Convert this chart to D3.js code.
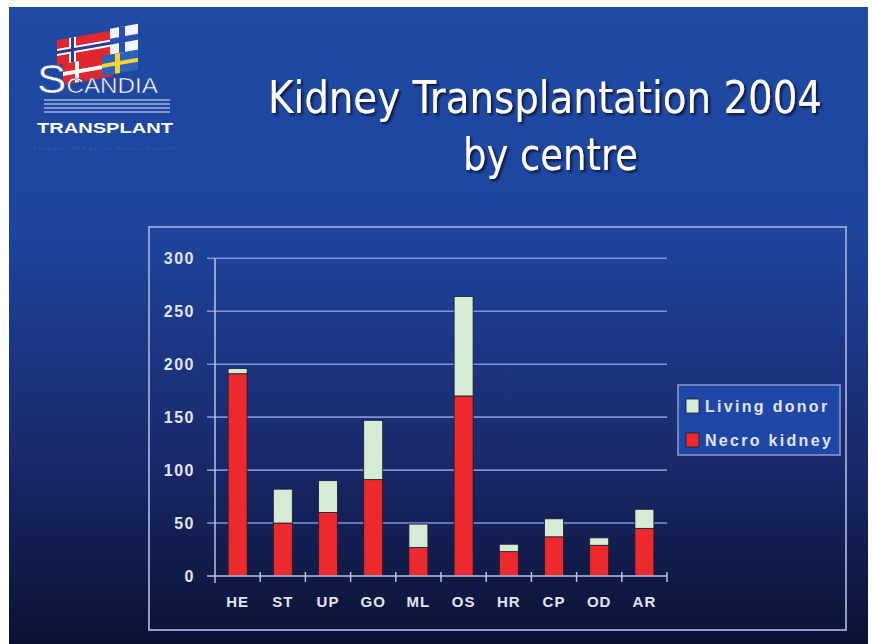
<!DOCTYPE html>
<html>
<head>
<meta charset="utf-8">
<script src="https://cdn.jsdelivr.net/npm/d3@7"></script>
<style>
  body { margin: 0; background: #fff; }
  svg { display: block; }
</style>
</head>
<body>
<div id="wrapper"></div>
<script>
// data
const centres = ["HE", "ST", "UP", "GO", "ML", "OS", "HR", "CP", "OD", "AR"]
const necroKidney = [191, 50, 60, 91, 27, 170, 23, 37, 29, 45]
const livingDonor = [5, 32, 30, 56, 22, 94, 7, 17, 7, 18]
const yTicks = [0, 50, 100, 150, 200, 250, 300]
const seriesNames = ["Necro kidney", "Living donor"]
const legendOrder = ["Living donor", "Necro kidney"]

const width = 872, height = 644
const colors = { "Necro kidney": "#ec2a2e", "Living donor": "#d5ebd5" }
const labelColor = "#e2e4f0"

const svg = d3.select("#wrapper")
    .append("svg")
        .attr("width", width)
        .attr("height", height)

const defs = svg.append("defs")
const grad = defs.append("linearGradient")
    .attr("id", "bg")
    .attr("x1", 0).attr("y1", 0).attr("x2", 0).attr("y2", 1)
grad.append("stop").attr("offset", "0%").attr("stop-color", "#1e4aa2")
grad.append("stop").attr("offset", "33%").attr("stop-color", "#1e469f")
grad.append("stop").attr("offset", "70%").attr("stop-color", "#1a2a6c")
grad.append("stop").attr("offset", "100%").attr("stop-color", "#0a1232")

const shadow = defs.append("filter").attr("id", "shadow")
    .attr("x", "-5%").attr("y", "-20%").attr("width", "110%").attr("height", "140%")
shadow.append("feDropShadow")
    .attr("dx", 2).attr("dy", 2).attr("stdDeviation", 1)
    .attr("flood-color", "#0a1030").attr("flood-opacity", 0.9)

// slide background
svg.append("rect")
    .attr("x", 9).attr("y", 7)
    .attr("width", 859).attr("height", height - 7)
    .attr("fill", "url(#bg)")

// logo (rough)
const logo = svg.append("g").attr("id", "logo")
const flags = logo.append("g").attr("transform", "translate(57,40) skewY(-10)")
// denmark
flags.append("rect").attr("x", 6).attr("y", 24).attr("width", 50).attr("height", 22).attr("fill", "#e0262e")
flags.append("rect").attr("x", 18).attr("y", 24).attr("width", 4).attr("height", 22).attr("fill", "#fff")
flags.append("rect").attr("x", 6).attr("y", 33).attr("width", 50).attr("height", 4).attr("fill", "#fff")
// norway
flags.append("rect").attr("x", 0).attr("y", 0).attr("width", 53).attr("height", 25).attr("fill", "#e0262e")
flags.append("rect").attr("x", 12).attr("y", 0).attr("width", 7).attr("height", 25).attr("fill", "#fff")
flags.append("rect").attr("x", 0).attr("y", 9).attr("width", 53).attr("height", 7).attr("fill", "#fff")
flags.append("rect").attr("x", 14).attr("y", 0).attr("width", 3).attr("height", 25).attr("fill", "#2a3a9a")
flags.append("rect").attr("x", 0).attr("y", 11).attr("width", 53).attr("height", 3).attr("fill", "#2a3a9a")
// finland
flags.append("rect").attr("x", 53).attr("y", -2).attr("width", 28).attr("height", 26).attr("fill", "#f4f6fb")
flags.append("rect").attr("x", 62).attr("y", -2).attr("width", 6).attr("height", 26).attr("fill", "#2a50b0")
flags.append("rect").attr("x", 53).attr("y", 8).attr("width", 28).attr("height", 6).attr("fill", "#2a50b0")
// sweden
flags.append("rect").attr("x", 45).attr("y", 24).attr("width", 36).attr("height", 20).attr("fill", "#2c62b8")
flags.append("rect").attr("x", 58).attr("y", 24).attr("width", 5).attr("height", 20).attr("fill", "#f2d43a")
flags.append("rect").attr("x", 45).attr("y", 32).attr("width", 36).attr("height", 4).attr("fill", "#f2d43a")

const scandia = logo.append("text")
    .attr("x", 37).attr("y", 93)
    .attr("font-family", "Liberation Sans, Arial, sans-serif")
    .attr("fill", "#fff")
    .attr("stroke", "#2a3f8f").attr("stroke-width", 0.5)
    .attr("textLength", 121).attr("lengthAdjust", "spacingAndGlyphs")
scandia.append("tspan").attr("font-size", 40).text("S")
scandia.append("tspan").attr("font-size", 22).text("CANDIA")

logo.selectAll(".logoLine")
    .data([100, 104, 108, 112])
    .join("line")
        .attr("class", "logoLine")
        .attr("x1", 44).attr("x2", 170)
        .attr("y1", d => d).attr("y2", d => d)
        .attr("stroke", "#dfe6f6").attr("stroke-width", 1.2)
logo.append("text")
    .attr("x", 37).attr("y", 133)
    .attr("font-family", "Liberation Sans, Arial, sans-serif")
    .attr("font-weight", "bold")
    .attr("font-size", 15).attr("fill", "#fff")
    .attr("textLength", 136).attr("lengthAdjust", "spacingAndGlyphs")
    .text("TRANSPLANT")
logo.append("text")
    .attr("x", 34).attr("y", 150)
    .attr("font-family", "Liberation Serif, serif")
    .attr("font-size", 5).attr("fill", "#3a62c0")
    .attr("textLength", 140)
    .text("Founded 1969 by the Nordic Council")

// title
const title = svg.append("g")
    .attr("font-family", "DejaVu Sans Condensed, DejaVu Sans, sans-serif")
    .attr("font-size", 44)
    .attr("fill", "#fff")
    .attr("filter", "url(#shadow)")
title.append("text")
    .attr("x", 268).attr("y", 113)
    .attr("textLength", 554).attr("lengthAdjust", "spacingAndGlyphs")
    .text("Kidney Transplantation 2004")
title.append("text")
    .attr("x", 463).attr("y", 170)
    .attr("textLength", 175).attr("lengthAdjust", "spacingAndGlyphs")
    .text("by centre")

// chart frame
svg.append("rect")
    .attr("x", 149).attr("y", 227)
    .attr("width", 697).attr("height", 403)
    .attr("fill", "none")
    .attr("stroke", "#8e9ccc").attr("stroke-width", 2)

// scales
const x = d3.scaleBand()
    .domain(centres)
    .range([215, 667])
    .paddingInner(0.58)
    .paddingOuter(0.29)

const y = d3.scaleLinear()
    .domain([0, 300])
    .range([576, 258.3])

// gridlines
svg.append("g")
    .selectAll("line")
    .data(yTicks.filter(d => d > 0))
    .join("line")
        .attr("x1", 207).attr("x2", x.range()[1])
        .attr("y1", d => y(d)).attr("y2", d => y(d))
        .attr("stroke", "#7f93dc").attr("stroke-width", 1.6)

// y axis
const yAxis = svg.append("g")
    .attr("transform", "translate(215,0)")
    .call(d3.axisLeft(y).tickValues(yTicks).tickSize(0).tickPadding(20))
yAxis.select(".domain")
    .attr("d", `M0,${y(300)}V${y(0) + 7}`)
    .attr("stroke", "#b9c2e6").attr("stroke-width", 1.5)
yAxis.selectAll("text")
    .attr("font-family", "Liberation Sans, Arial, sans-serif")
    .attr("font-weight", "bold")
    .attr("font-size", 16)
    .attr("letter-spacing", 1.5)
    .attr("fill", labelColor)

// stacked bars
const rows = centres.map((c, i) => ({
    centre: c,
    "Necro kidney": necroKidney[i],
    "Living donor": livingDonor[i]
}))
const stacked = d3.stack().keys(seriesNames)(rows)

svg.append("g")
    .selectAll("g")
    .data(stacked)
    .join("g")
        .attr("fill", d => colors[d.key])
    .selectAll("rect")
    .data(d => d)
    .join("rect")
        .attr("x", d => x(d.data.centre))
        .attr("y", d => y(d[1]))
        .attr("width", x.bandwidth())
        .attr("height", d => y(d[0]) - y(d[1]))
        .attr("stroke", "#1a1a2a")
        .attr("stroke-width", 0.8)

// x axis
const xAxis = svg.append("g")
    .attr("transform", `translate(0,${y(0)})`)
    .call(d3.axisBottom(x).tickSize(0).tickPadding(20))
xAxis.select(".domain")
    .attr("d", `M207,0H${x.range()[1]}`)
    .attr("stroke", "#b9c2e6").attr("stroke-width", 1.5)
xAxis.selectAll("text")
    .attr("font-family", "Liberation Sans, Arial, sans-serif")
    .attr("font-weight", "bold")
    .attr("font-size", 15)
    .attr("letter-spacing", 1)
    .attr("fill", labelColor)

// tick marks between categories
const gap = (x.step() - x.bandwidth()) / 2
const boundaries = centres.slice(1).map(c => x(c) - gap).concat([x.range()[1]])
xAxis.selectAll(".sep")
    .data(boundaries)
    .join("line")
        .attr("class", "sep")
        .attr("x1", d => d).attr("x2", d => d)
        .attr("y1", -4).attr("y2", 6)
        .attr("stroke", "#b9c2e6").attr("stroke-width", 1.5)

// legend
const legend = svg.append("g").attr("transform", "translate(678,385)")
legend.append("rect")
    .attr("width", 162).attr("height", 70)
    .attr("fill", "#1f47a6")
    .attr("stroke", "#8e9ccc").attr("stroke-width", 1.5)
const items = legend.selectAll(".item")
    .data(legendOrder)
    .join("g")
        .attr("class", "item")
        .attr("transform", (d, i) => `translate(8,${14 + i * 34})`)
items.append("rect")
    .attr("width", 13).attr("height", 14)
    .attr("fill", d => colors[d])
    .attr("stroke", "#1a1a2a").attr("stroke-width", 0.8)
items.append("text")
    .attr("x", 19).attr("y", 13)
    .attr("font-family", "Liberation Sans, Arial, sans-serif")
    .attr("font-weight", "bold")
    .attr("font-size", 16)
    .attr("letter-spacing", 2.3)
    .attr("fill", labelColor)
    .text(d => d)
</script>
</body>
</html>
